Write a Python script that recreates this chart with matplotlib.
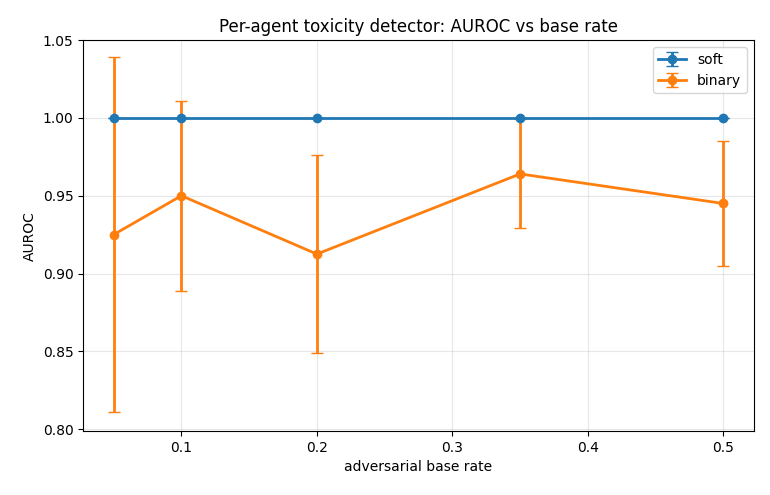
import matplotlib
matplotlib.use("Agg")
import matplotlib.pyplot as plt

base_rates = [0.05, 0.1, 0.2, 0.35, 0.5]
soft_mean = [1.0, 1.0, 1.0, 1.0, 1.0]
soft_err = [0.0, 0.0, 0.0, 0.0, 0.0]
binary_mean = [0.925, 0.950, 0.9125, 0.964, 0.945]
binary_err = [0.114, 0.061, 0.0635, 0.035, 0.040]

fig, ax = plt.subplots(figsize=(7.7, 4.95), dpi=100)
ax.errorbar(base_rates, soft_mean, yerr=soft_err, marker='o', lw=2, capsize=4, label='soft')
ax.errorbar(base_rates, binary_mean, yerr=binary_err, marker='o', lw=2, capsize=4, label='binary')
ax.set_xlabel('adversarial base rate')
ax.set_ylabel('AUROC')
ax.set_title('Per-agent toxicity detector: AUROC vs base rate')
ax.set_ylim(0.7987, 1.05)
ax.grid(alpha=0.3)
ax.legend(loc='upper right')
fig.subplots_adjust(left=0.108, right=0.979, top=0.919, bottom=0.129)
fig.savefig('out.png')
